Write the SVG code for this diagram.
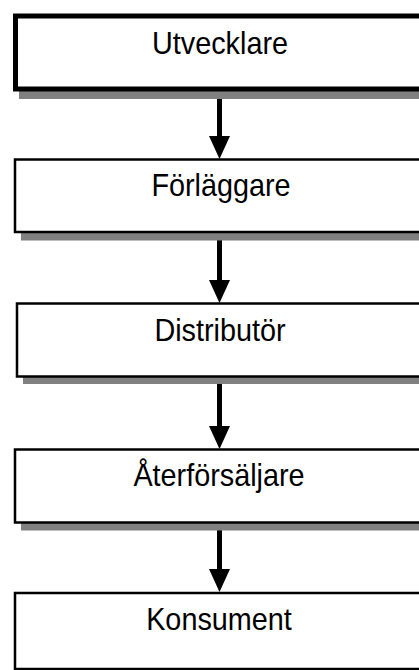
<svg xmlns="http://www.w3.org/2000/svg" width="419" height="670" viewBox="0 0 419 670">
<style>
.box{fill:#fff;stroke:#000;stroke-width:2.5}
.shadow{fill:#808080}
.lbl{font-family:"Liberation Sans",Arial,sans-serif;font-size:32px;fill:#000;text-anchor:middle}
.conn{stroke:#000;stroke-width:5;fill:none}
</style>
<rect width="419" height="670" fill="#fff"/>
<g id="connectors">
<line class="conn" x1="219.5" y1="91" x2="219.5" y2="138"/>
<path d="M209,136 L230,136 L219.5,159 Z" fill="#000"/>
<line class="conn" x1="219.5" y1="234" x2="219.5" y2="282"/>
<path d="M209,280 L230,280 L219.5,303 Z" fill="#000"/>
<line class="conn" x1="219.5" y1="378" x2="219.5" y2="428"/>
<path d="M209,426 L230,426 L219.5,449 Z" fill="#000"/>
<line class="conn" x1="219.5" y1="523" x2="219.5" y2="572"/>
<path d="M209,569 L230,569 L219.5,592 Z" fill="#000"/>
</g>
<g id="utvecklare">
<rect class="shadow" x="19" y="24" width="420" height="75"/>
<rect class="box" x="15.5" y="16" width="420" height="73" style="stroke-width:5"/>
<text class="lbl" transform="translate(220,54) scale(0.9,1)">Utvecklare</text>
</g>
<g id="forlaggare">
<rect class="shadow" x="21" y="166" width="420" height="74.5"/>
<rect class="box" x="15" y="159.5" width="420" height="72.5"/>
<text class="lbl" transform="translate(221,196) scale(0.9,1)">Förläggare</text>
</g>
<g id="distributor">
<rect class="shadow" x="23" y="310" width="420" height="74"/>
<rect class="box" x="17" y="303.5" width="420" height="73"/>
<text class="lbl" transform="translate(220,341) scale(0.9,1)">Distributör</text>
</g>
<g id="aterforsaljare">
<rect class="shadow" x="21" y="456" width="420" height="74.5"/>
<rect class="box" x="15" y="449.5" width="420" height="73"/>
<text class="lbl" transform="translate(219,486) scale(0.9,1)">Återförsäljare</text>
</g>
<g id="konsument">
<rect class="box" x="15" y="593" width="420" height="76"/>
<text class="lbl" transform="translate(219,630) scale(0.9,1)">Konsument</text>
</g>
</svg>
